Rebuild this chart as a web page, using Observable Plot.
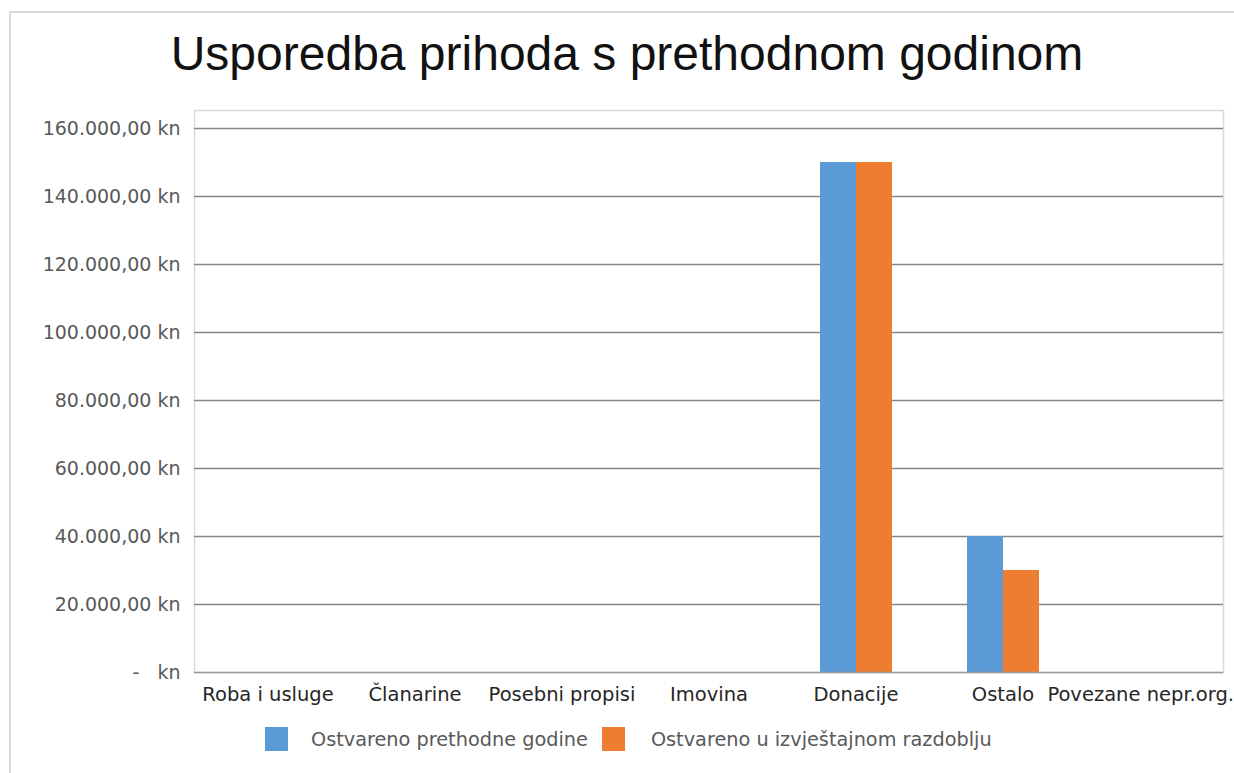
<!DOCTYPE html>
<html>
<head>
<meta charset="utf-8">
<script src="https://cdn.jsdelivr.net/npm/d3@7"></script>
<script src="https://cdn.jsdelivr.net/npm/@observablehq/plot@0.6"></script>
<style>
  html, body { margin: 0; padding: 0; background: #fff; }
  #wrap { position: relative; width: 1234px; height: 773px; overflow: hidden; }
  #border { position: absolute; left: 9px; top: 11px; width: 1240px; height: 800px;
            border-left: 2px solid #d9d9d9; border-top: 2px solid #d9d9d9; box-sizing: border-box; }
  #title { position: absolute; left: 0; width: 1254px; top: 30px; text-align: center;
           font-family: "Liberation Sans", Arial, sans-serif; font-size: 48px; line-height: 48px; color: #111; }
  #chart { position: absolute; left: 0; top: 90px; }
  #legend { position: absolute; top: 727px; left: 265px; display: flex; align-items: center;
            font-family: "DejaVu Sans", sans-serif; font-size: 19.3px; color: #595959; white-space: nowrap; }
  .sw { width: 23px; height: 24px; display: inline-block; margin-right: 23px; }
  .item { display: flex; align-items: center; margin-right: 14px; }
  .item + .item .sw { margin-right: 26px; }
</style>
</head>
<body>
<div id="wrap">
  <div id="border"></div>
  <div id="title">Usporedba prihoda s prethodnom godinom</div>
  <div id="chart"></div>
  <div id="legend"></div>
</div>
<script>
const categories = ["Roba i usluge", "Članarine", "Posebni propisi", "Imovina", "Donacije", "Ostalo", "Povezane nepr.org."];
const series = ["Ostvareno prethodne godine", "Ostvareno u izvještajnom razdoblju"];
const prevYear = [0, 0, 0, 0, 150000, 40000, 0];
const currentPeriod = [0, 0, 0, 0, 150000, 30000, 0];
const yTicks = [0, 20000, 40000, 60000, 80000, 100000, 120000, 140000, 160000];
const colors = ["#5B9BD5", "#ED7D31"];

const hr = d3.formatLocale({decimal: ",", thousands: ".", grouping: [3], currency: ["", ""]});
const num = hr.format(",.2f");
const fmt = v => v === 0 ? "-\u00a0\u00a0\u00a0kn" : num(v) + " kn";

const rows = categories.flatMap((c, i) => [
  {category: c, series: series[0], value: prevYear[i]},
  {category: c, series: series[1], value: currentPeriod[i]}
]);

const last = categories[categories.length - 1];

const chart = Plot.plot({
  width: 1234,
  height: 617,
  marginLeft: 192,
  marginRight: 10,
  marginTop: 20,
  marginBottom: 35,
  style: {fontFamily: "DejaVu Sans, sans-serif", fontSize: "19px", background: "transparent"},
  fx: {domain: categories, padding: 0, label: null},
  x: {domain: series, paddingInner: 0, paddingOuter: 1, axis: null},
  y: {domain: [0, 165300], axis: null},
  color: {domain: series, range: colors},
  marks: [
    Plot.frame({stroke: "#d9d9d9", strokeWidth: 1.5, facet: "super"}),
    Plot.ruleY(yTicks.slice(1), {stroke: "#868686", strokeWidth: 1.3}),
    Plot.barY(rows, {fx: "category", x: "series", y: "value", fill: "series"}),
    Plot.ruleY([0], {stroke: "#9a9a9a", strokeWidth: 1.5}),
    Plot.axisY({ticks: yTicks, tickFormat: fmt, tickSize: 0, tickPadding: 14, fill: "#595959", label: null}),
    Plot.axisFx({anchor: "bottom", ticks: categories.slice(0, -1), tickSize: 0, tickPadding: 15, fill: "#262626", fontSize: "19.5px", label: null}),
    Plot.axisFx({anchor: "bottom", ticks: [last], tickSize: 0, tickPadding: 15, fill: "#262626", fontSize: "19.5px", textAnchor: "end", dx: 84, label: null})
  ]
});
document.getElementById("chart").appendChild(chart);

const legend = document.getElementById("legend");
series.forEach((s, i) => {
  const item = document.createElement("div");
  item.className = "item";
  const sw = document.createElement("span");
  sw.className = "sw";
  sw.style.background = colors[i];
  const t = document.createElement("span");
  t.textContent = s;
  item.appendChild(sw);
  item.appendChild(t);
  legend.appendChild(item);
});
</script>
</body>
</html>
